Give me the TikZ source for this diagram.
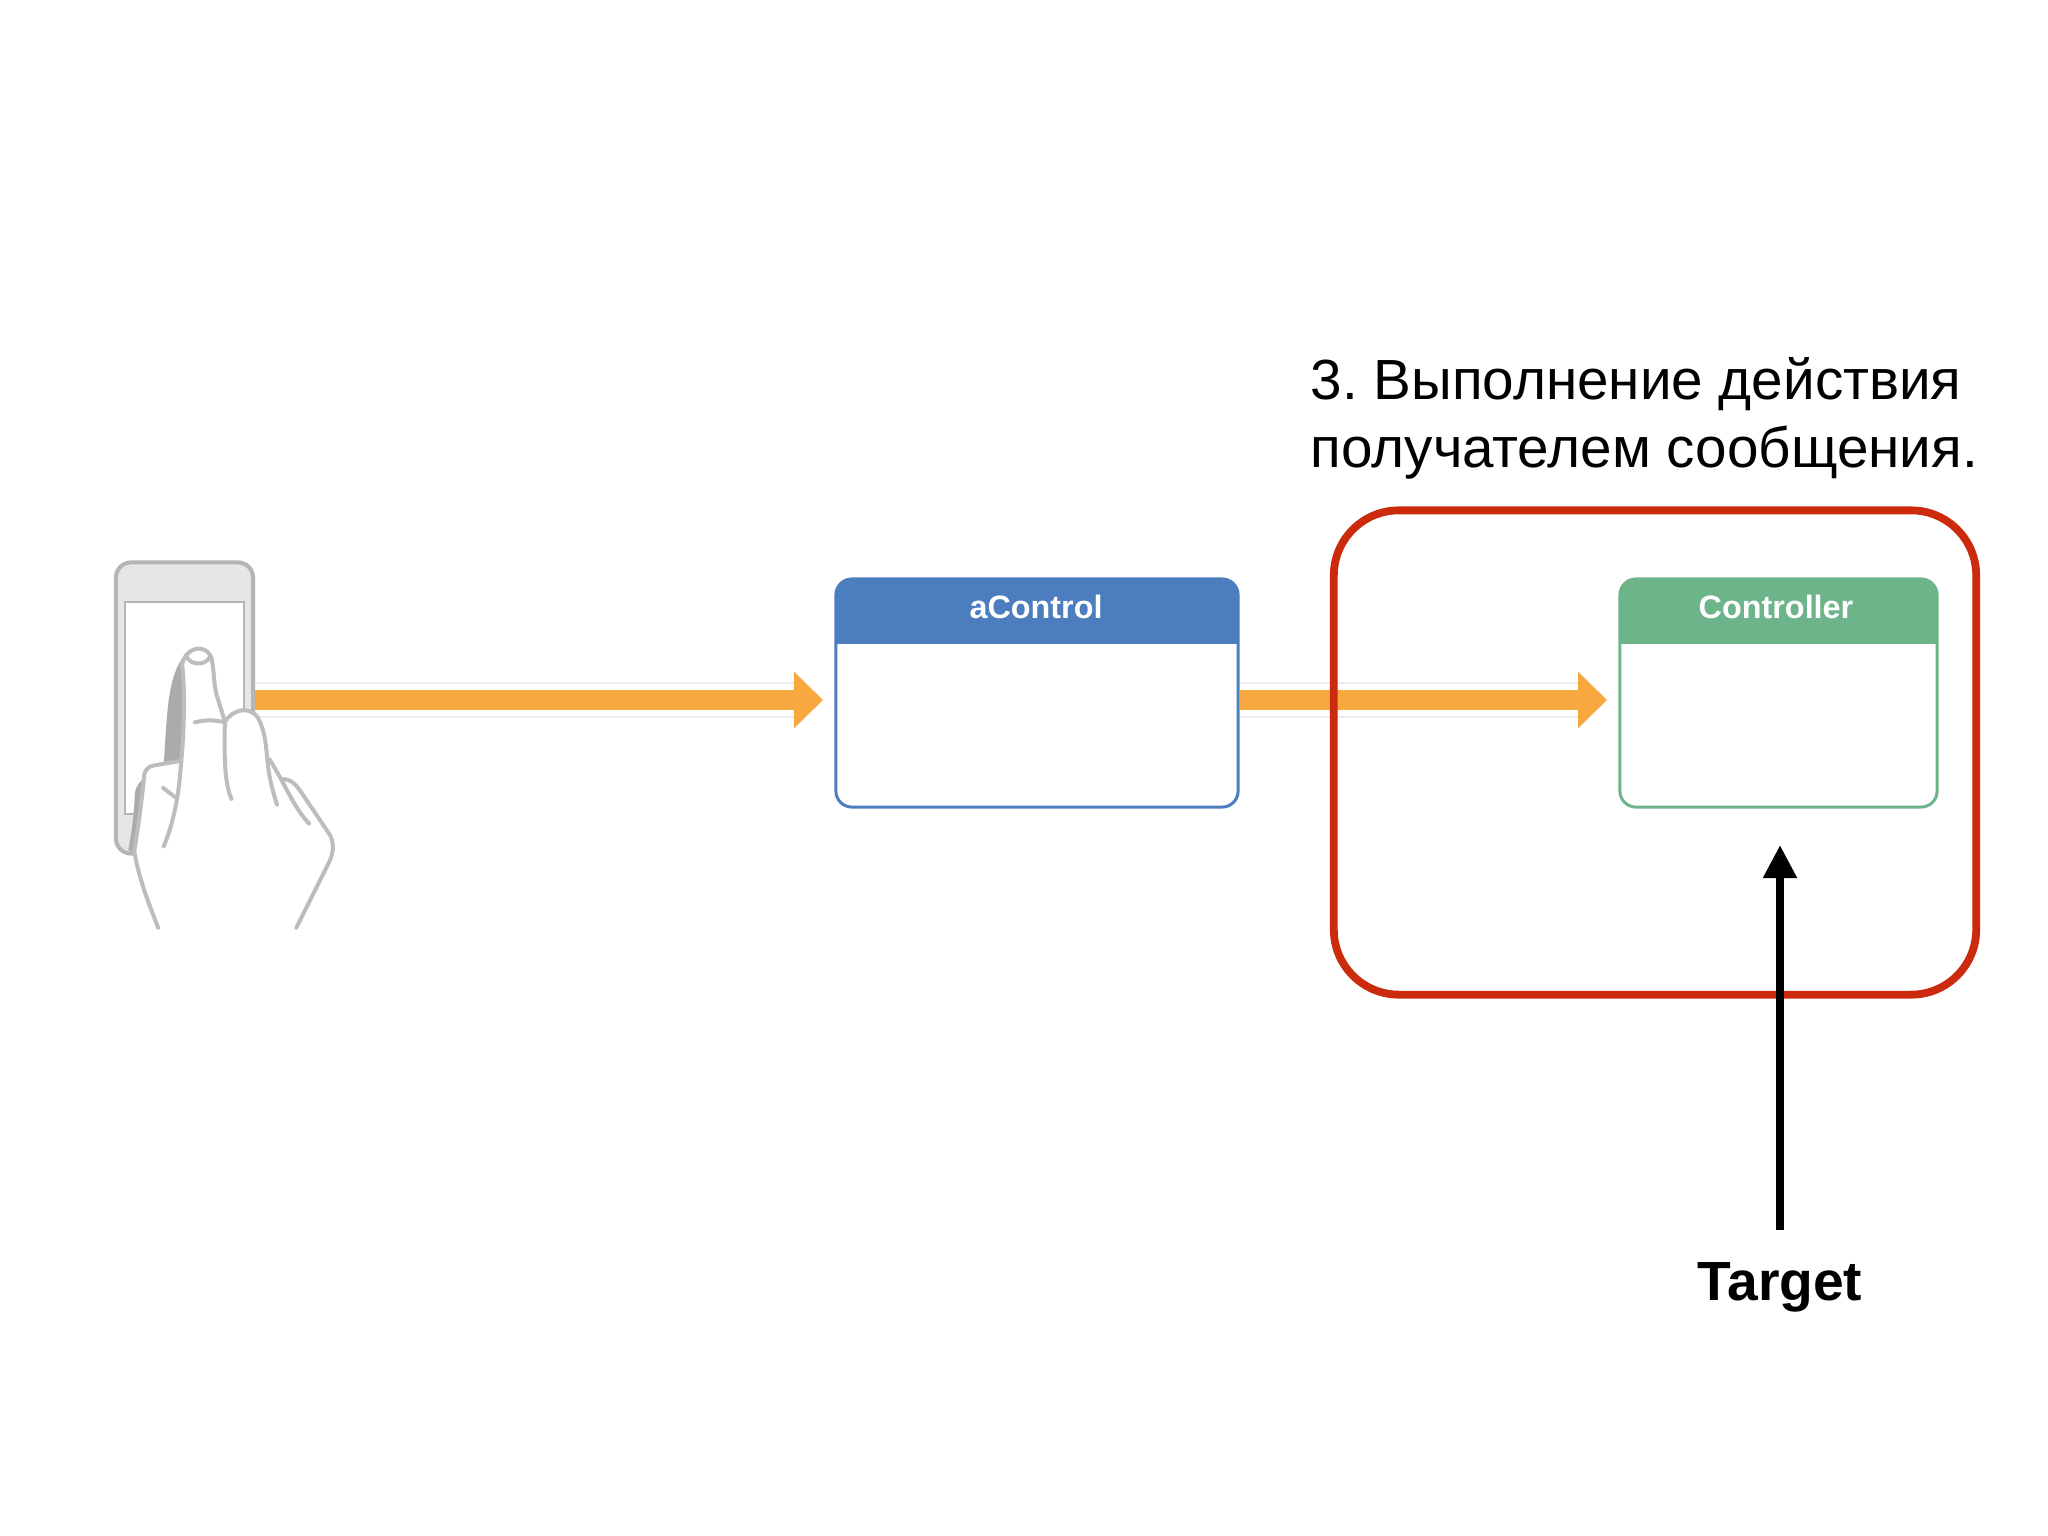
\documentclass[tikz,border=0pt]{standalone}
\usepackage{fontspec}
\setmainfont{Liberation Sans}
\frenchspacing
\usetikzlibrary{arrows.meta,positioning}
\definecolor{flow}{HTML}{F7A83E}
\definecolor{flowedge}{HTML}{ECECEC}
\definecolor{ctlblue}{HTML}{4C7DBF}
\definecolor{ctlgreen}{HTML}{6DB48B}
\definecolor{redbox}{HTML}{CC2A0C}
\definecolor{handgray}{HTML}{BDBDBD}
\definecolor{handshade}{HTML}{ABABAB}
\definecolor{phonegray}{HTML}{B5B5B5}
\definecolor{phonefill}{HTML}{E6E6E6}
\tikzset{
  ctlbox/.style={draw=#1,line width=.03cm,rounded corners=.16cm,fill=white,inner sep=0pt,
    minimum height=2.28cm,
    path picture={\fill[#1,sharp corners] (path picture bounding box.north west) rectangle
      ([yshift=-.65cm]path picture bounding box.north east);}},
  ctltitle/.style={text=white,font=\fontsize{9.2}{11}\selectfont\bfseries,inner sep=0pt},
  flowarrow/.style={draw=flow,line width=.20cm,-{Triangle[length=.29cm,width=.55cm]}},
  flowrim/.style={draw=flowedge,line width=.012cm},
  targetarrow/.style={draw=black,line width=.08cm,-{Triangle[length=.33cm,width=.32cm]}},
  handline/.style={draw=handgray,line width=.04cm,line cap=round,line join=round},
}
\begin{document}
\begin{tikzpicture}[x=.01cm,y=-.01cm]
\useasboundingbox[fill=white] (0,0) rectangle (2048,1536);
% phone
\node[draw=phonegray,fill=phonefill,line width=.04cm,rounded corners=.15cm,inner sep=0pt,
  minimum width=1.37cm,minimum height=2.91cm] (phone) at (184.5,708) {};
\node[draw=phonegray,fill=white,line width=.018cm,inner sep=0pt,
  minimum width=1.19cm,minimum height=2.12cm] (screen) at (184.5,708) {};
% boxes
\node[ctlbox=ctlblue,minimum width=4.02cm] (acontrol) at (1037,693) {};
\node[ctltitle] (acontroltitle) at (1036,607) {aControl};
\node[ctlbox=ctlgreen,minimum width=3.17cm] (controller) at (1778.5,693) {};
\node[ctltitle] (controllertitle) at (1776,607) {Controller};
% flow anchors
\coordinate (a1) at (823,700);
\coordinate (a2) at (1607,700);
% flow arrows
\draw[flowrim] (phone.east |- 0,683) -- (794,683);
\draw[flowrim] (phone.east |- 0,717) -- (794,717);
\draw[flowrim] (acontrol.east |- 0,683) -- (1578,683);
\draw[flowrim] (acontrol.east |- 0,717) -- (1578,717);
\draw[flowarrow] (phone.east |- a1) -- (a1);
\draw[flowarrow] (acontrol.east |- a2) -- (a2);
% red frame
\node[draw=redbox,line width=.078cm,rounded corners=.65cm,inner sep=0pt,
  minimum width=6.42cm,minimum height=4.84cm] (frame) at (1655,752.5) {};
% target
\node[font=\fontsize{15.7}{18}\selectfont\bfseries,inner sep=0pt] (target) at (1780,1287) {Target};
\coordinate (tip) at (1780,845);
\draw[targetarrow] (1780,1230) -- (tip);
% caption
\node[anchor=north west,align=left,inner sep=0pt,
  font=\fontsize{16.1}{19.15}\selectfont] (caption) at (1310,357)
  {3. Выполнение действия\\получателем сообщения.};
% hand
\begin{scope}[shift={(90,540)},x=.003333cm,y=-.003333cm]
\fill[white] (205,1165) .. controls (175,1090) and (140,1000) .. (130,930)
  -- (150,730) .. controls (160,700) and (165,680) .. (195,675)
  -- (225,668) .. controls (240,450) and (240,400) .. (285,335)
  .. controls (320,310) and (360,325) .. (370,370)
  .. controls (375,450) and (385,500) .. (405,545)
  .. controls (425,510) and (480,500) .. (505,535)
  .. controls (525,570) and (530,620) .. (540,665)
  -- (580,720) .. controls (610,720) and (640,760) .. (660,790)
  -- (725,890) .. controls (735,915) and (730,940) .. (720,965)
  -- (620,1165) -- cycle;
\fill[handshade] (222,668) .. controls (232,520) and (232,410) .. (285,345)
  .. controls (275,400) and (285,500) .. (280,570)
  .. controls (278,610) and (275,640) .. (268,668) -- cycle;
\fill[handshade] (135,760) .. controls (140,735) and (150,725) .. (165,715)
  .. controls (155,790) and (150,860) .. (135,940)
  -- (115,932) .. controls (125,880) and (132,830) .. (135,760) -- cycle;
\draw[handline] (205,1165) .. controls (175,1090) and (145,1010) .. (133,935);
\draw[handline] (133,935) .. controls (145,860) and (155,790) .. (163,705)
  .. controls (170,680) and (185,678) .. (200,676) -- (265,665);
\draw[handline] (222,920) .. controls (250,850) and (265,780) .. (272,690)
  .. controls (285,560) and (285,440) .. (277,375);
\draw[handline] (277,375) .. controls (285,325) and (345,305) .. (365,355)
  .. controls (375,400) and (370,440) .. (385,480) -- (405,545);
\draw[handline] (290,350) .. controls (300,375) and (345,380) .. (360,352);
\draw[handline] (315,548) .. controls (345,540) and (375,540) .. (405,548);
\draw[handline] (405,548) .. controls (405,620) and (400,720) .. (425,778);
\draw[handline] (405,548) .. controls (425,510) and (480,495) .. (505,535)
  .. controls (530,580) and (530,640) .. (535,680)
  .. controls (540,720) and (550,760) .. (562,795);
\draw[handline] (540,660) .. controls (590,740) and (610,800) .. (658,852);
\draw[handline] (582,718) .. controls (620,720) and (640,770) .. (670,810)
  -- (722,888) .. controls (735,915) and (730,940) .. (720,965) -- (620,1165);
\draw[handline] (220,745) -- (255,772);
\end{scope}
\end{tikzpicture}
\end{document}
